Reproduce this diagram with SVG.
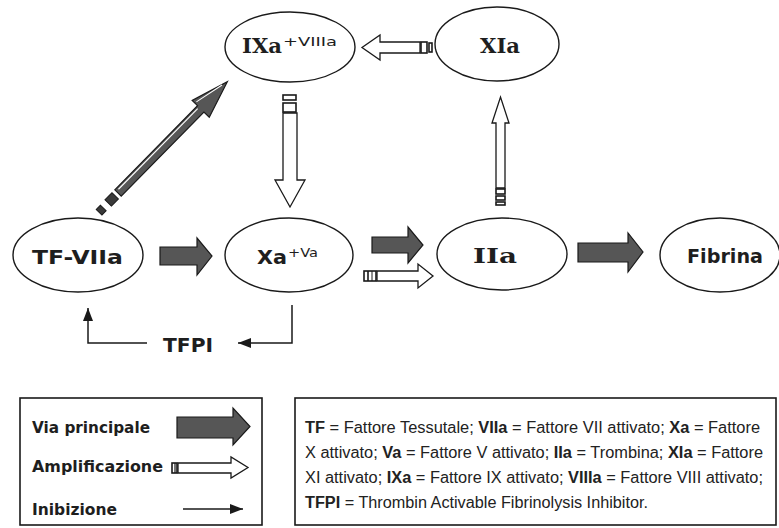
<svg xmlns="http://www.w3.org/2000/svg" width="779" height="528" viewBox="0 0 779 528">
<style>
.node{fill:#fff;stroke:#1a1a1a;stroke-width:1.4}
.sans{font-family:"DejaVu Sans","Liberation Sans",sans-serif;font-weight:bold;fill:#1e1e1e}
.serif{font-family:"DejaVu Serif","Liberation Serif",serif;font-weight:bold;fill:#1e1e1e}
.sup{font-family:"DejaVu Sans","Liberation Sans",sans-serif;font-size:12px;fill:#1e1e1e}
.main{fill:#565656;stroke:#1a1a1a;stroke-width:1.2;stroke-linejoin:miter}
.amp{fill:#fff;stroke:#1a1a1a;stroke-width:1.3}
.stripe{fill:#fff;stroke:#1a1a1a;stroke-width:1.6}
.inh{fill:none;stroke:#1a1a1a;stroke-width:1.5}
.box{fill:#fff;stroke:#1a1a1a;stroke-width:1.6}
.leg{font-family:"DejaVu Sans","Liberation Sans",sans-serif;font-weight:bold;font-size:15.5px;fill:#1e1e1e}
.txt{font-family:"Liberation Sans","Arial",sans-serif;font-size:16px;fill:#222}
.b{font-weight:bold}
</style>
<defs>
<marker id="ah" markerUnits="userSpaceOnUse" markerWidth="14" markerHeight="10" refX="13" refY="5" orient="auto">
<path d="M0,0 L13,5 L0,10 Z" fill="#1a1a1a"/>
</marker>
</defs>
<rect width="779" height="528" fill="#fff"/>

<g id="connectors">
  <!-- main pathway arrows -->
  <path class="main" d="M160,247 H197 V238 L212,256 L197,275 V265 H160 Z"/>
  <path class="main" d="M372,237 H408 V227 L423,245 L408,263 V253 H372 Z"/>
  <path class="main" d="M578,243 H628 V233 L643,252 L628,272 V262 H578 Z"/>
  <!-- diagonal TF-VIIa -> IXa -->
  <g transform="translate(118,193) rotate(-45.5)">
    <path class="main" d="M0,-4.5 H118 V-12 L156,0 L118,12 V4.5 H0 Z"/>
    <line x1="3" y1="-2.3" x2="116" y2="-2.3" stroke="#fff" stroke-width="1.1"/>
    <line x1="120" y1="-8" x2="150" y2="-1.5" stroke="#fff" stroke-width="1"/>
    <rect x="-14" y="-4.5" width="10" height="9" fill="#3a3a3a" stroke="#1a1a1a" stroke-width="1"/>
    <rect x="-27" y="-4" width="6" height="8" fill="#3a3a3a" stroke="#1a1a1a" stroke-width="1"/>
  </g>
  <!-- amplification: Xa -> IIa -->
  <path class="amp" d="M377,271 H418 V264 L433,276 L418,288 V281 H377 Z"/>
  <rect class="stripe" x="364" y="271" width="12" height="10"/>
  <line x1="368" y1="271" x2="368" y2="281" stroke="#1a1a1a" stroke-width="1.6"/>
  <line x1="372" y1="271" x2="372" y2="281" stroke="#1a1a1a" stroke-width="1"/>
  <!-- amplification: IXa -> Xa (down) -->
  <path class="amp" d="M283,113 V180 H275 L290,207 L305,180 H297 V113 Z"/>
  <rect class="stripe" x="283" y="95" width="13" height="5"/>
  <rect class="stripe" x="283" y="103" width="13" height="9"/>
  <!-- amplification: IIa -> XIa (up) -->
  <path class="amp" d="M496,188 V123 H492 L500.5,97 L509,123 H505 V188 Z"/>
  <rect class="stripe" x="496" y="189" width="9" height="5"/>
  <rect class="stripe" x="496" y="196" width="9" height="4"/>
  <rect class="stripe" x="496" y="202" width="9" height="3"/>
  <!-- amplification: XIa -> IXa (left) -->
  <path class="amp" d="M420,42 H380 V35 L362,47.5 L380,60 V53 H420 Z"/>
  <rect class="stripe" x="421" y="42" width="6" height="11"/>
  <rect class="stripe" x="429" y="43" width="3" height="9"/>
  <!-- inhibition TFPI -->
  <path class="inh" d="M292,305 V343 H238" marker-end="url(#ah)"/>
  <path class="inh" d="M147,343 H88 V308" marker-end="url(#ah)"/>
</g>

<g id="node-IXa">
  <ellipse class="node" cx="290" cy="47" rx="65" ry="35"/>
  <text x="242" y="53" class="serif" font-size="20" textLength="40" lengthAdjust="spacingAndGlyphs">IXa</text>
  <text x="283" y="46" class="sup" textLength="54" lengthAdjust="spacingAndGlyphs">+VIIIa</text>
</g>
<g id="node-XIa">
  <ellipse class="node" cx="497" cy="44" rx="62" ry="37"/>
  <text x="500" y="53" class="serif" font-size="20" text-anchor="middle" textLength="40" lengthAdjust="spacingAndGlyphs">XIa</text>
</g>
<g id="node-TF-VIIa">
  <ellipse class="node" cx="78" cy="255" rx="65" ry="37"/>
  <text x="77.5" y="264" class="sans" font-size="20" text-anchor="middle" textLength="91" lengthAdjust="spacingAndGlyphs">TF-VIIa</text>
</g>
<g id="node-Xa">
  <ellipse class="node" cx="289" cy="255" rx="64" ry="37"/>
  <text x="257" y="264" class="sans" font-size="20" textLength="30" lengthAdjust="spacingAndGlyphs">Xa</text>
  <text x="288" y="257" class="sup" textLength="30" lengthAdjust="spacingAndGlyphs">+Va</text>
</g>
<g id="node-IIa">
  <ellipse class="node" cx="502" cy="254" rx="65" ry="36"/>
  <text x="495" y="263" class="serif" font-size="20" text-anchor="middle" textLength="44" lengthAdjust="spacingAndGlyphs">IIa</text>
</g>
<g id="node-Fibrina">
  <ellipse class="node" cx="720" cy="255" rx="60" ry="37"/>
  <text x="725" y="263" class="sans" font-size="20" text-anchor="middle" textLength="76" lengthAdjust="spacingAndGlyphs">Fibrina</text>
</g>
<g id="node-TFPI">
  <text x="188" y="352" class="sans" font-size="20" text-anchor="middle" textLength="50" lengthAdjust="spacingAndGlyphs">TFPI</text>
</g>

<g id="legend-keys">
  <rect class="box" x="20" y="398" width="242" height="127"/>
  <text x="32" y="433" class="leg" textLength="118" lengthAdjust="spacingAndGlyphs">Via principale</text>
  <text x="32" y="472" class="leg" textLength="131" lengthAdjust="spacingAndGlyphs">Amplificazione</text>
  <text x="32" y="515" class="leg" textLength="85" lengthAdjust="spacingAndGlyphs">Inibizione</text>
  <path class="main" d="M177,417 H233 V408 L250,426.5 L233,445 V438 H177 Z"/>
  <path class="amp" d="M178,463 H231 V457 L248,467.5 L231,478 V473 H178 Z"/>
  <rect class="stripe" x="172" y="463" width="5" height="10"/>
  <line x1="175" y1="463" x2="175" y2="473" stroke="#1a1a1a" stroke-width="1.2"/>
  <path class="inh" d="M183,509 H243" marker-end="url(#ah)"/>
</g>

<g id="legend-abbrev">
  <rect class="box" x="295" y="398" width="481" height="127"/>
  <text x="305" y="433" class="txt" textLength="455" lengthAdjust="spacingAndGlyphs"><tspan class="b">TF</tspan> = Fattore Tessutale; <tspan class="b">VIIa</tspan> = Fattore VII attivato; <tspan class="b">Xa</tspan> = Fattore</text>
  <text x="305" y="458" class="txt" textLength="458" lengthAdjust="spacingAndGlyphs">X attivato; <tspan class="b">Va</tspan> = Fattore V attivato; <tspan class="b">IIa</tspan> = Trombina; <tspan class="b">XIa</tspan> = Fattore</text>
  <text x="305" y="483" class="txt" textLength="458" lengthAdjust="spacingAndGlyphs">XI attivato; <tspan class="b">IXa</tspan> = Fattore IX attivato; <tspan class="b">VIIIa</tspan> = Fattore VIII attivato;</text>
  <text x="305" y="508" class="txt" textLength="343" lengthAdjust="spacingAndGlyphs"><tspan class="b">TFPI</tspan> = Thrombin Activable Fibrinolysis Inhibitor.</text>
</g>
</svg>
